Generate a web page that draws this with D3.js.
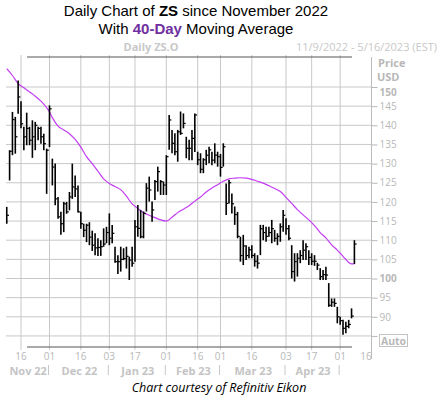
<!DOCTYPE html>
<html lang="en">
<head>
<meta charset="utf-8" />
<script src="https://cdnjs.cloudflare.com/ajax/libs/d3/7.8.5/d3.min.js"></script>
<style>
  body { margin: 0; background: #fff; }
  svg { display: block; }
  .grey { fill: #b8b8b8; font-family: 'Open Sans', sans-serif; }
</style>
</head>
<body>
<div id="chart"></div>
<script>
// trading days shown on the x axis (data ends before the last ones)
var dates = [
  "2022-11-09","2022-11-10","2022-11-11","2022-11-14","2022-11-15","2022-11-16","2022-11-17","2022-11-18","2022-11-21","2022-11-22","2022-11-23","2022-11-25","2022-11-28","2022-11-29","2022-11-30",
  "2022-12-01","2022-12-02","2022-12-05","2022-12-06","2022-12-07","2022-12-08","2022-12-09","2022-12-12","2022-12-13","2022-12-14","2022-12-15","2022-12-16","2022-12-19","2022-12-20","2022-12-21","2022-12-22","2022-12-23","2022-12-27","2022-12-28","2022-12-29","2022-12-30",
  "2023-01-03","2023-01-04","2023-01-05","2023-01-06","2023-01-09","2023-01-10","2023-01-11","2023-01-12","2023-01-13","2023-01-17","2023-01-18","2023-01-19","2023-01-20","2023-01-23","2023-01-24","2023-01-25","2023-01-26","2023-01-27","2023-01-30","2023-01-31",
  "2023-02-01","2023-02-02","2023-02-03","2023-02-06","2023-02-07","2023-02-08","2023-02-09","2023-02-10","2023-02-13","2023-02-14","2023-02-15","2023-02-16","2023-02-17","2023-02-21","2023-02-22","2023-02-23","2023-02-24","2023-02-27","2023-02-28",
  "2023-03-01","2023-03-02","2023-03-03","2023-03-06","2023-03-07","2023-03-08","2023-03-09","2023-03-10","2023-03-13","2023-03-14","2023-03-15","2023-03-16","2023-03-17","2023-03-20","2023-03-21","2023-03-22","2023-03-23","2023-03-24","2023-03-27","2023-03-28","2023-03-29","2023-03-30","2023-03-31",
  "2023-04-03","2023-04-04","2023-04-05","2023-04-06","2023-04-10","2023-04-11","2023-04-12","2023-04-13","2023-04-14","2023-04-17","2023-04-18","2023-04-19","2023-04-20","2023-04-21","2023-04-24","2023-04-25","2023-04-26","2023-04-27","2023-04-28",
  "2023-05-01","2023-05-02","2023-05-03","2023-05-04","2023-05-05","2023-05-08","2023-05-09","2023-05-10","2023-05-11","2023-05-12","2023-05-15","2023-05-16"
];

// daily bars: high / low / close
var high = [118.7,133.5,143.5,142.2,151.7,146.3,139.6,143.3,139.6,141.3,140.9,139.6,139.6,137.8,133.9,
  145.2,131.3,130.0,121.3,117.4,120.0,120.0,122.6,130.0,126.9,124.3,117.4,114.3,114.3,114.7,112.5,111.8,110.5,110.0,113.1,113.5,
  117.0,114.0,108.3,106.1,108.3,107.9,108.3,105.7,108.3,115.3,119.2,117.9,117.5,124.9,126.6,120.1,125.7,129.2,125.7,125.3,
  132.2,142.7,138.8,137.9,138.8,143.6,143.1,137.0,136.2,138.8,143.1,133.1,132.7,131.4,133.6,134.4,133.1,135.3,133.1,
  132.5,135.3,124.8,125.7,122.2,118.8,117.4,110.9,111.4,108.7,108.3,108.7,106.6,106.1,114.0,114.0,113.5,113.5,115.3,112.7,111.8,114.4,117.9,
  115.7,114.0,108.7,106.6,106.6,107.4,110.0,109.2,107.4,106.6,106.1,104.1,102.7,102.2,103.1,98.8,94.8,94.8,92.6,
  90.0,89.2,88.7,89.2,92.2,110.0];
var low = [114.3,125.6,132.2,132.6,143.0,139.2,133.5,134.8,134.8,131.5,133.5,136.1,135.2,133.5,122.1,
  134.3,124.3,119.1,115.6,111.4,112.1,116.9,117.8,120.8,121.3,117.2,113.0,110.8,109.5,108.7,107.2,106.1,105.9,105.9,108.3,109.2,
  108.7,109.2,104.1,101.2,101.8,104.8,102.6,99.6,103.1,104.4,110.9,110.5,110.5,117.5,120.1,114.8,120.5,122.7,121.8,121.8,
  121.8,133.6,132.7,132.2,130.5,137.5,139.2,131.4,130.9,130.9,133.0,129.6,127.5,127.5,129.6,130.1,129.6,130.1,129.2,
  126.6,129.2,116.6,119.6,117.0,114.0,110.5,104.4,103.5,104.8,105.3,105.3,103.1,102.6,106.1,110.0,109.6,110.9,109.2,109.6,108.7,109.6,112.2,
  111.4,110.0,100.0,99.2,100.5,104.0,104.8,104.8,103.5,103.5,103.3,102.2,99.6,99.6,99.6,92.6,92.6,92.6,88.3,
  87.9,85.3,85.7,87.0,89.6,103.8];
var close = [116.5,133.2,141.5,137.0,147.4,140.4,137.0,139.2,136.1,137.0,140.0,139.2,137.0,135.2,133.5,
  144.3,129.1,120.8,116.1,114.3,119.5,117.4,121.3,123.9,123.4,117.4,114.3,112.6,113.9,110.8,108.7,108.0,108.1,108.3,109.0,112.0,
  110.5,111.8,104.4,104.4,105.0,105.2,105.8,104.8,104.0,113.5,113.1,110.9,117.0,123.6,123.1,117.9,125.3,127.9,125.3,124.4,
  131.8,141.4,135.3,133.1,138.3,137.9,140.5,134.0,134.0,136.6,142.7,131.0,128.5,131.0,132.2,133.6,130.9,132.2,131.8,
  129.0,134.4,119.6,125.0,119.5,116.7,111.0,106.0,108.5,106.0,107.5,106.0,104.5,104.0,113.0,112.0,111.0,112.0,113.0,110.5,111.0,113.5,116.5,
  113.0,110.5,101.8,104.4,105.3,106.0,107.4,108.3,105.5,104.5,104.5,103.5,100.5,101.0,100.9,93.0,93.8,93.5,90.0,
  89.0,87.0,87.5,88.0,90.2,109.0];

// 40-day moving average, read at these bar positions
var maIdx = [0,2,4,6,8,10,12,14,15,16,18,20,22,24,26,28,30,32,34,36,38,40,42,44,46,48,50,52,54,56,58,60,
  62,64,66,68,70,72,74,76,78,80,82,84,86,88,90,92,94,96,98,100,102,104,106,108,110,112,114,116,118,120,121,122];
var maVal = [154.8,153.0,150.9,149.8,148.7,147.6,146.3,144.6,143.5,142.0,139.8,138.8,137.8,136.3,134.3,131.8,130.0,128.0,126.0,124.8,124.0,123.2,121.5,119.5,118.3,117.2,116.5,115.9,115.3,115.0,116.0,117.2,
  118.1,119.0,120.2,121.3,122.6,123.6,124.5,125.4,126.0,126.2,126.3,126.2,125.9,125.4,124.9,124.2,123.5,122.7,121.2,119.6,118.0,116.6,115.3,113.8,112.0,110.6,108.8,107.4,105.8,104.2,103.8,103.8];

var tickDates = ["2022-11-16","2022-12-01","2022-12-16","2023-01-03","2023-01-17","2023-02-01","2023-02-16","2023-03-01","2023-03-16","2023-04-03","2023-04-17","2023-05-01","2023-05-16"];
var tickLabels = ["16","01","16","03","17","01","16","01","16","03","17","01","16"];
var monthStarts = ["2022-11-09","2022-12-01","2023-01-03","2023-02-01","2023-03-01","2023-04-03","2023-05-01"];
var monthLabels = ["Nov 22","Dec 22","Jan 23","Feb 23","Mar 23","Apr 23"];
var priceTicks = [85,90,95,100,105,110,115,120,125,130,135,140,145,150];

var width = 440, height = 396;
var plotTop = 57, plotBottom = 347;

var svg = d3.select('#chart').append('svg')
  .attr('width', width).attr('height', height);

var x = d3.scaleLinear().domain([0, dates.length - 1]).range([6.75, 371.5]);
var y = d3.scaleLinear().domain([100, 150]).range([278.5, 87]);
var axisX = x(dates.length - 1);

// titles
var t1 = svg.append('text').attr('x', 196).attr('y', 16).attr('text-anchor', 'middle')
  .style('font-family', "'Liberation Sans', Arial, sans-serif").style('font-size', '15px');
t1.append('tspan').text('Daily Chart of ');
t1.append('tspan').style('font-weight', 'bold').text('ZS');
t1.append('tspan').text(' since November 2022');
var t2 = svg.append('text').attr('x', 196).attr('y', 34).attr('text-anchor', 'middle')
  .style('font-family', "'Liberation Sans', Arial, sans-serif").style('font-size', '15px');
t2.append('tspan').text('With ');
t2.append('tspan').style('font-weight', 'bold').style('fill', '#7030a0').text('40-Day');
t2.append('tspan').text(' Moving Average');

svg.append('text').attr('class', 'grey').attr('x', 151).attr('y', 51).attr('text-anchor', 'middle')
  .style('font-size', '11px').style('font-weight', 'bold').style('fill', '#c8c8c8').text('Daily ZS.O');
svg.append('text').attr('class', 'grey').attr('x', 437).attr('y', 51).attr('text-anchor', 'end')
  .style('font-size', '11px').style('fill', '#c8c8c8').text('11/9/2022 - 5/16/2023 (EST)');

// grid
svg.append('g').selectAll('line').data(priceTicks).enter().append('line')
  .attr('x1', 6).attr('x2', axisX)
  .attr('y1', function (d) { return y(d); }).attr('y2', function (d) { return y(d); })
  .attr('stroke', '#c8c8c8').attr('stroke-width', 1);
svg.append('g').selectAll('line').data(tickDates.slice(0, -1)).enter().append('line')
  .attr('x1', function (d) { return x(dates.indexOf(d)); })
  .attr('x2', function (d) { return x(dates.indexOf(d)); })
  .attr('y1', plotTop - 2).attr('y2', plotBottom + 3)
  .attr('stroke', '#c8c8c8').attr('stroke-width', 1);

// frame lines
svg.append('line').attr('x1', 27).attr('x2', 352).attr('y1', plotTop).attr('y2', plotTop)
  .attr('stroke', '#555').attr('stroke-width', 1);
svg.append('line').attr('x1', 27).attr('x2', 352).attr('y1', plotBottom).attr('y2', plotBottom)
  .attr('stroke', '#555').attr('stroke-width', 1);

// right price axis
var yAxis = svg.append('g')
  .attr('transform', 'translate(' + axisX + ',0)')
  .call(d3.axisRight(y).tickValues(priceTicks).tickSize(6).tickPadding(2)
    .tickFormat(function (d) { return d === 85 ? '' : d; }));
yAxis.select('.domain').remove();
yAxis.selectAll('.tick line').attr('stroke', '#b8b8b8');
yAxis.selectAll('.tick text')
  .attr('fill', '#b8b8b8')
  .style('font-family', "'Open Sans', sans-serif").style('font-size', '10px')
  .style('font-weight', function (d) { return (d === 100 || d === 150) ? 'bold' : 'normal'; })
  .attr('dy', function (d) { return d === 150 ? '0.85em' : '0.32em'; });
svg.append('line').attr('x1', axisX).attr('x2', axisX).attr('y1', plotTop).attr('y2', plotBottom + 12)
  .attr('stroke', '#bbb').attr('stroke-width', 1);

svg.append('text').attr('class', 'grey').attr('x', 378).attr('y', 67)
  .style('font-size', '11px').style('font-weight', 'bold').text('Price');
svg.append('text').attr('class', 'grey').attr('x', 377).attr('y', 81)
  .style('font-size', '11px').style('font-weight', 'bold').text('USD');

svg.append('rect').attr('x', 379.5).attr('y', 334.5).attr('width', 28).attr('height', 12)
  .attr('fill', 'none').attr('stroke', '#c4c4c4');
svg.append('text').attr('class', 'grey').attr('x', 393.5).attr('y', 344.5).attr('text-anchor', 'middle')
  .style('font-size', '10.5px').style('font-weight', 'bold').text('Auto');

// date labels
svg.append('g').selectAll('text').data(tickDates).enter().append('text')
  .attr('class', 'grey')
  .attr('x', function (d) { return Math.min(x(dates.indexOf(d)), 366); })
  .attr('y', 360).attr('text-anchor', 'middle')
  .style('font-size', '10px')
  .text(function (d, i) { return tickLabels[i]; });

svg.append('g').selectAll('text').data(monthLabels).enter().append('text')
  .attr('class', 'grey')
  .attr('x', function (d, i) { return (x(dates.indexOf(monthStarts[i])) + x(dates.indexOf(monthStarts[i + 1]))) / 2; })
  .attr('y', 375).attr('text-anchor', 'middle')
  .style('font-size', '11px').style('font-weight', 'bold').style('fill', '#c4c4c4')
  .text(function (d) { return d; });
svg.append('g').selectAll('line').data(monthStarts.slice(1)).enter().append('line')
  .attr('x1', function (d) { return x(dates.indexOf(d)) - 1; })
  .attr('x2', function (d) { return x(dates.indexOf(d)) - 1; })
  .attr('y1', 365).attr('y2', 375)
  .attr('stroke', '#c8c8c8').attr('stroke-width', 1);

// moving average
var maLine = d3.line()
  .x(function (d, i) { return x(maIdx[i]); })
  .y(function (d) { return y(d); })
  .curve(d3.curveMonotoneX);
svg.append('path').datum(maVal)
  .attr('d', maLine)
  .attr('fill', 'none').attr('stroke', '#c23cf2').attr('stroke-width', 1.2);

// HLC bars
var bars = svg.append('g');
bars.selectAll('line.hl').data(high).enter().append('line')
  .attr('class', 'hl')
  .attr('x1', function (d, i) { return x(i); }).attr('x2', function (d, i) { return x(i); })
  .attr('y1', function (d) { return y(d); })
  .attr('y2', function (d, i) { return y(low[i]); })
  .attr('stroke', '#000').attr('stroke-width', 1.6);
bars.selectAll('line.cl').data(close).enter().append('line')
  .attr('class', 'cl')
  .attr('x1', function (d, i) { return x(i); }).attr('x2', function (d, i) { return x(i) + 2.2; })
  .attr('y1', function (d) { return y(d); }).attr('y2', function (d) { return y(d); })
  .attr('stroke', '#000').attr('stroke-width', 1.2);

svg.append('text').attr('x', 219).attr('y', 392).attr('text-anchor', 'middle')
  .style('font-family', "'Open Sans', sans-serif").style('font-style', 'italic').style('font-size', '12.5px')
  .text('Chart courtesy of Refinitiv Eikon');
</script>
</body>
</html>
